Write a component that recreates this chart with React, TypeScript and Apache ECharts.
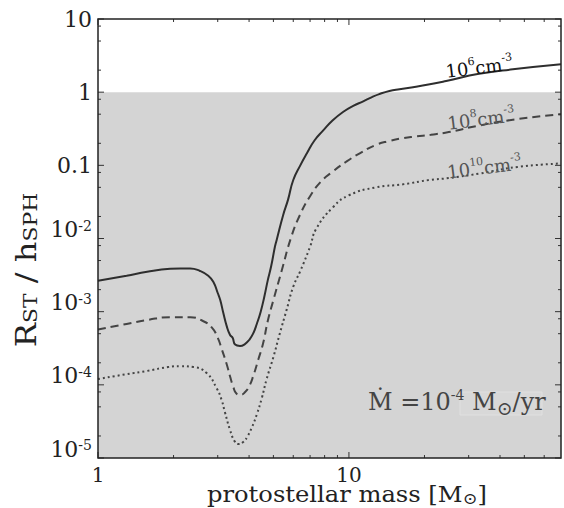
import React, { useEffect, useRef } from "react";
import * as echarts from "echarts";

const FONT = "DejaVu Serif";

// axis ranges
const X_MIN = 1;
const X_MAX = 70;
const Y_MIN = 1e-5;
const Y_MAX = 10;
const SHADE_TOP = 1;

// protostellar mass [Msun] and R_ST / h_SPH, n = 1e6 cm^-3
const massN6 = [1, 1.3, 1.57, 1.94, 2.13, 2.33, 2.55, 2.75, 2.88, 3.0, 3.07, 3.16, 3.26, 3.36, 3.44, 3.52, 3.68, 3.85, 4.0, 4.15, 4.3, 4.45, 4.6, 4.75, 4.9, 5.07, 5.15, 5.47, 5.72, 6.0, 6.4, 6.8, 7.3, 7.9, 8.6, 9.5, 10.4, 11.4, 12.3, 13.2, 14.5, 15.9, 18, 21, 24.4, 33, 45, 70];
const ratioN6 = [2.64e-3, 3.1e-3, 3.5e-3, 3.85e-3, 3.9e-3, 3.9e-3, 3.6e-3, 3.1e-3, 2.56e-3, 1.8e-3, 1.44e-3, 9.5e-4, 6.3e-4, 4.8e-4, 4.4e-4, 3.55e-4, 3.4e-4, 3.6e-4, 4.1e-4, 5.0e-4, 6.9e-4, 1.0e-3, 1.6e-3, 2.7e-3, 4.2e-3, 7.7e-3, 9.5e-3, 0.021, 0.034, 0.063, 0.1, 0.146, 0.22, 0.3, 0.41, 0.54, 0.65, 0.75, 0.85, 0.94, 1.04, 1.1, 1.17, 1.28, 1.42, 1.78, 2.05, 2.4];

// n = 1e8 cm^-3
const massN8 = [1, 1.3, 1.57, 1.94, 2.33, 2.63, 2.85, 3.0, 3.11, 3.26, 3.36, 3.46, 3.56, 3.7, 3.85, 4.0, 4.15, 4.35, 4.55, 4.75, 5.0, 5.38, 5.89, 6.38, 6.97, 7.74, 8.62, 9.75, 11, 12.8, 14.5, 16.4, 18.5, 21.2, 25, 33, 45, 70];
const ratioN8 = [5.7e-4, 6.8e-4, 7.7e-4, 8.4e-4, 8.4e-4, 7.4e-4, 6.0e-4, 4.4e-4, 3.1e-4, 1.9e-4, 1.3e-4, 9.4e-5, 7.6e-5, 7.3e-5, 7.9e-5, 9.5e-5, 1.3e-4, 2.2e-4, 3.7e-4, 7.5e-4, 1.44e-3, 3.5e-3, 0.0105, 0.021, 0.037, 0.06, 0.082, 0.112, 0.145, 0.19, 0.215, 0.235, 0.248, 0.262, 0.285, 0.35, 0.42, 0.5];

// n = 1e10 cm^-3
const massN10 = [1, 1.3, 1.57, 1.9, 2.13, 2.4, 2.71, 2.97, 3.11, 3.2, 3.36, 3.5, 3.62, 3.79, 3.95, 4.1, 4.3, 4.49, 4.7, 5.0, 5.3, 5.64, 6.0, 6.4, 7.0, 7.4, 8.66, 10, 12.8, 16.4, 20.9, 25, 33, 47, 70];
const ratioN10 = [1.2e-4, 1.4e-4, 1.55e-4, 1.75e-4, 1.8e-4, 1.75e-4, 1.45e-4, 9e-5, 6.2e-5, 4.3e-5, 2.4e-5, 1.7e-5, 1.55e-5, 1.65e-5, 2.0e-5, 2.6e-5, 4.0e-5, 6.5e-5, 1.2e-4, 2.4e-4, 5e-4, 1.05e-3, 2.2e-3, 3.6e-3, 7.7e-3, 0.0135, 0.027, 0.039, 0.05, 0.055, 0.063, 0.067, 0.077, 0.095, 0.106];

// tick marks
const xMajorTicks = [1, 10];
const xMinorTicks = [2, 3, 4, 5, 6, 7, 8, 9, 20, 30, 40, 50, 60];
const yMajorTicks = [1e-5, 1e-4, 1e-3, 1e-2, 0.1, 1, 10];
const yMinorTicks = [2e-5, 5e-5, 8e-5, 2e-4, 5e-4, 8e-4, 2e-3, 5e-3, 8e-3, 0.02, 0.05, 0.08, 0.2, 0.5, 0.8, 2, 5, 8];

// tick labels, indexed by decade exponent from -5 to 1
const yTickLabels = ["10^-5", "10^-4", "10^-3", "10^-2", "0.1", "1", "10"];
const xTickLabels = ["1", "10"];

const zip = (xs: number[], ys: number[]) => xs.map((x, i) => [x, ys[i]]);

const isPow10 = (v: number) => {
  const l = Math.log10(v);
  return Math.abs(l - Math.round(l)) < 1e-6;
};

const curveLabelRich = (color: string) => ({
  b: { fontFamily: FONT, fontSize: 18, lineHeight: 21, color, verticalAlign: "bottom" },
  s: { fontFamily: FONT, fontSize: 11, lineHeight: 12, color, verticalAlign: "top" },
});

const curveLabel = (sup: string, color: string, coord: number[]) => ({
  silent: true,
  symbol: "circle",
  symbolSize: 0,
  label: {
    show: true,
    position: "inside",
    rotate: 7,
    formatter: `{b|10}{s|${sup}}{b|cm}{s|-3}`,
    rich: curveLabelRich(color),
  },
  data: [{ coord }],
});

export default function App() {
  const ref = useRef<HTMLDivElement>(null);

  useEffect(() => {
    const chart = echarts.init(ref.current!, null, { renderer: "svg" });

    const tickData = [
      ...xMajorTicks.map((v) => [v, Y_MIN, 0, 1]),
      ...xMinorTicks.map((v) => [v, Y_MIN, 0, 0]),
      ...yMajorTicks.map((v) => [X_MIN, v, 1, 1]),
      ...yMinorTicks.map((v) => [X_MIN, v, 1, 0]),
    ];

    const curve = (mass: number[], ratio: number[], color: string, type: any) => ({
      type: "line",
      z: 3,
      data: zip(mass, ratio),
      showSymbol: false,
      symbol: "none",
      smooth: 0.5,
      lineStyle: { color, width: 2, type },
    });

    const option: any = {
      animation: false,
      backgroundColor: "#fff",
      grid: { left: 98, right: 2, top: 19, bottom: 50, containLabel: false },
      xAxis: {
        type: "log",
        logBase: 10,
        min: X_MIN,
        max: X_MAX,
        axisLine: { show: false },
        axisTick: { show: false },
        splitLine: { show: false },
        minorTick: { show: false },
        axisLabel: {
          margin: 7,
          fontFamily: FONT,
          fontSize: 20,
          color: "#222",
          formatter: (v: number) => {
            if (!isPow10(v)) return "";
            const e = Math.round(Math.log10(v));
            return xTickLabels[e] ?? "";
          },
        },
      },
      yAxis: {
        type: "log",
        logBase: 10,
        min: Y_MIN,
        max: Y_MAX,
        axisLine: { show: false },
        axisTick: { show: false },
        splitLine: { show: false },
        minorTick: { show: false },
        axisLabel: {
          margin: 6,
          fontFamily: FONT,
          fontSize: 22,
          color: "#222",
          formatter: (v: number) => {
            if (!isPow10(v)) return "";
            const e = Math.round(Math.log10(v));
            const lab = yTickLabels[e + 5];
            if (!lab) return "";
            const m = lab.match(/^10\^(-?\d+)$/);
            // exponent labels sit with the base just above the tick
            return m ? `{b|10}{s|${m[1]}}\n{g| }` : `{p|${lab}}`;
          },
          rich: {
            p: { fontFamily: FONT, fontSize: 22, lineHeight: 24, color: "#222" },
            b: { fontFamily: FONT, fontSize: 22, lineHeight: 22, color: "#222", verticalAlign: "bottom" },
            s: { fontFamily: FONT, fontSize: 14, lineHeight: 14, color: "#222", verticalAlign: "top" },
            g: { fontFamily: FONT, fontSize: 2, lineHeight: 18, color: "#222" },
          },
        },
      },
      series: [
        {
          // shaded region below R_ST / h_SPH = 1
          type: "custom",
          z: 1,
          silent: true,
          encode: { x: [0, 2], y: [1, 3] },
          data: [[X_MIN, Y_MIN, X_MAX, SHADE_TOP]],
          renderItem: (params: any, api: any) => {
            const p0 = api.coord([api.value(0), api.value(1)]);
            const p1 = api.coord([api.value(2), api.value(3)]);
            return {
              type: "rect",
              shape: { x: p0[0], y: p1[1], width: p1[0] - p0[0], height: p0[1] - p1[1] },
              style: { fill: "#d4d4d4" },
            };
          },
        },
        { ...curve(massN6, ratioN6, "#2e2e2e", "solid"), markPoint: curveLabel("6", "#111", [33, 2.3]) },
        { ...curve(massN8, ratioN8, "#444", [8, 5]), markPoint: curveLabel("8", "#555", [33.6, 0.45]) },
        { ...curve(massN10, ratioN10, "#444", [2, 3]), markPoint: curveLabel("10", "#555", [34.6, 0.098]) },
        {
          // inward tick marks on all four sides
          type: "custom",
          z: 6,
          silent: true,
          encode: { x: 0, y: 1 },
          data: tickData,
          renderItem: (params: any, api: any) => {
            const cs = params.coordSys;
            const p = api.coord([api.value(0), api.value(1)]);
            const kind = api.value(2);
            const len = api.value(3) ? 6 : 3;
            const style = { stroke: "#333", lineWidth: 1 };
            if (kind === 0) {
              const x = p[0];
              const yb = cs.y + cs.height;
              return {
                type: "group",
                children: [
                  { type: "line", shape: { x1: x, y1: yb, x2: x, y2: yb - len }, style },
                  { type: "line", shape: { x1: x, y1: cs.y, x2: x, y2: cs.y + len }, style },
                ],
              };
            }
            const y = p[1];
            const xr = cs.x + cs.width;
            return {
              type: "group",
              children: [
                { type: "line", shape: { x1: cs.x, y1: y, x2: cs.x + len, y2: y }, style },
                { type: "line", shape: { x1: xr, y1: y, x2: xr - len, y2: y }, style },
              ],
            };
          },
        },
        {
          // plot frame
          type: "custom",
          z: 7,
          silent: true,
          encode: { x: 0, y: 1 },
          data: [[X_MIN, Y_MIN]],
          renderItem: (params: any) => {
            const cs = params.coordSys;
            return {
              type: "rect",
              shape: { x: cs.x, y: cs.y, width: cs.width, height: cs.height },
              style: { fill: "none", stroke: "#222", lineWidth: 1.5 },
            };
          },
        },
      ],
      graphic: [
        {
          type: "text",
          x: 25,
          y: 270,
          rotation: Math.PI / 2,
          scaleX: 1.15,
          style: {
            text: "{r|R}{c|ST}{r| / h}{c|SPH}",
            align: "center",
            verticalAlign: "middle",
            rich: {
              r: { fontFamily: FONT, fontSize: 28, lineHeight: 30, fill: "#222", verticalAlign: "bottom" },
              c: { fontFamily: FONT, fontSize: 19, lineHeight: 23, fill: "#222", verticalAlign: "bottom" },
            },
          },
        },
        {
          type: "text",
          x: 207,
          y: 494,
          scaleX: 1.1,
          style: {
            text: "{t|protostellar mass [M}{o|⊙}{t|]}",
            align: "left",
            verticalAlign: "middle",
            rich: {
              t: { fontFamily: FONT, fontSize: 22, lineHeight: 25, fill: "#222", verticalAlign: "middle" },
              o: { fontFamily: FONT, fontSize: 16, lineHeight: 16, padding: [9, 0, 0, 0], fill: "#222", verticalAlign: "middle" },
            },
          },
        },
        {
          type: "rect",
          z: 8,
          shape: { x: 460, y: 392, width: 82, height: 23 },
          style: { fill: "#d8d8d8", stroke: "#e0e0e0", lineWidth: 1 },
        },
        {
          type: "text",
          z: 9,
          x: 368,
          y: 402,
          style: {
            text: "{t|Ṁ =10}{s|-4}{t| M}{o|⊙}{t|/yr}",
            align: "left",
            verticalAlign: "middle",
            rich: {
              t: { fontFamily: FONT, fontSize: 24, lineHeight: 28, fill: "#444", verticalAlign: "middle" },
              s: { fontFamily: FONT, fontSize: 14, lineHeight: 14, fill: "#444", verticalAlign: "top" },
              o: { fontFamily: FONT, fontSize: 19, lineHeight: 18, padding: [11, 0, 0, 0], fill: "#444", verticalAlign: "middle" },
            },
          },
        },
      ],
    };

    chart.setOption(option);
    return () => chart.dispose();
  }, []);

  return (
    <div
      ref={ref}
      style={{ position: "fixed", left: 0, top: 0, width: 564, height: 508, background: "#fff" }}
    />
  );
}
